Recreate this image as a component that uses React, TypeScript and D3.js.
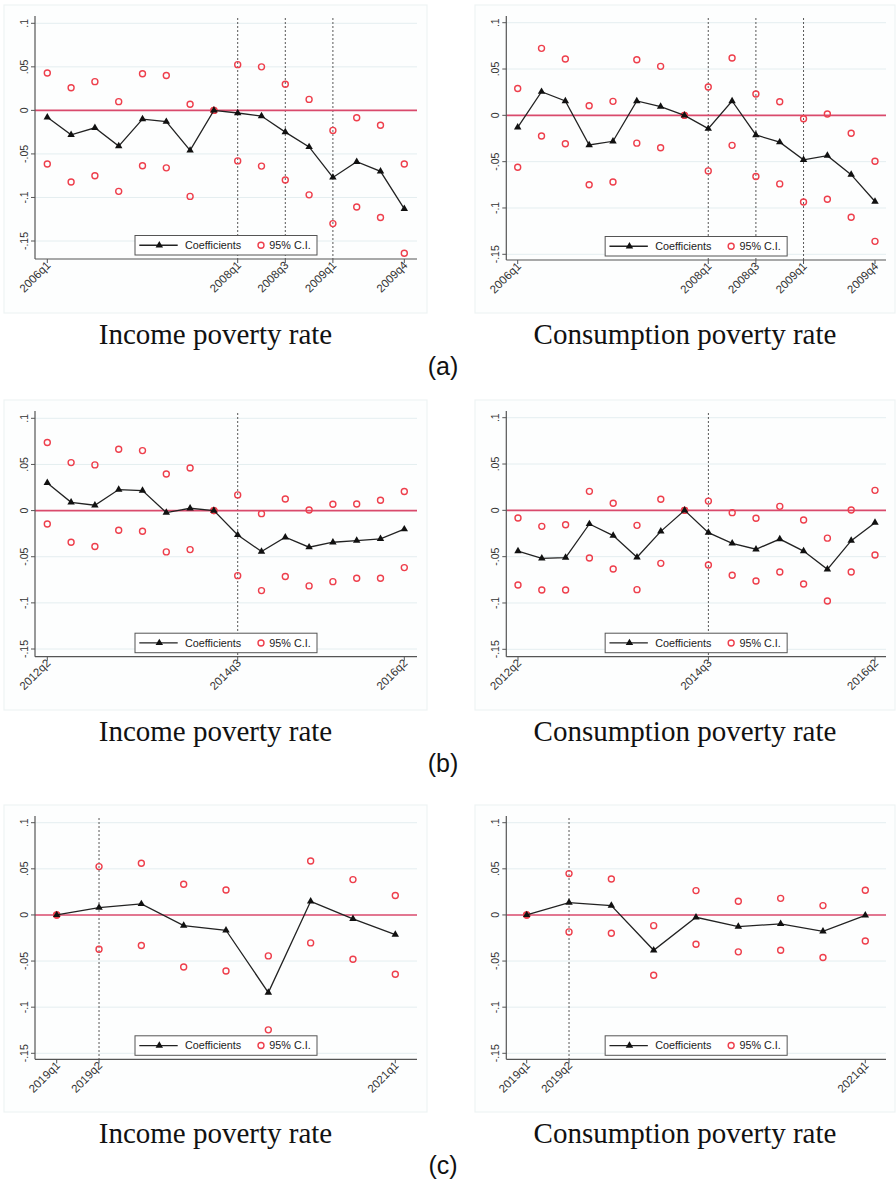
import React from "react";
import * as d3 from "d3";

// ---------- data ----------
const quartersA = ["2006q1","2006q2","2006q3","2006q4","2007q1","2007q2","2007q3","2007q4","2008q1","2008q2","2008q3","2008q4","2009q1","2009q2","2009q3","2009q4"];
const ticksA = ["2006q1","2008q1","2008q3","2009q1","2009q4"];
const eventsA = ["2008q1","2008q3","2009q1"];

const quartersB = ["2012q2","2012q3","2012q4","2013q1","2013q2","2013q3","2013q4","2014q1","2014q3","2014q4","2015q1","2015q2","2015q3","2015q4","2016q1","2016q2"];
const ticksB = ["2012q2","2014q3","2016q2"];
const eventsB = ["2014q3"];

const quartersC = ["2019q1","2019q2","2019q3","2019q4","2020q1","2020q2","2020q3","2020q4","2021q1"];
const ticksC = ["2019q1","2019q2","2021q1"];
const eventsC = ["2019q2"];

const incomeACoef = [-0.008,-0.028,-0.020,-0.041,-0.010,-0.013,-0.046,0,-0.003,-0.0065,-0.025,-0.042,-0.077,-0.059,-0.070,-0.113];
const incomeAHi = [0.043,0.026,0.033,0.010,0.042,0.040,0.007,0,0.0525,0.050,0.030,0.0126,-0.023,-0.0084,-0.017,-0.0616];
const incomeALo = [-0.0616,-0.0823,-0.075,-0.093,-0.0636,-0.066,-0.0988,0,-0.058,-0.064,-0.080,-0.097,-0.130,-0.111,-0.123,-0.164];

const consACoef = [-0.013,0.0255,0.0155,-0.032,-0.028,0.0155,0.0094,0,-0.0144,0.0155,-0.0212,-0.029,-0.048,-0.0435,-0.064,-0.093];
const consAHi = [0.029,0.0723,0.0608,0.0104,0.0151,0.060,0.0529,0,0.0306,0.0619,0.023,0.0147,-0.0036,0.0014,-0.0194,-0.0496];
const consALo = [-0.056,-0.0223,-0.0306,-0.075,-0.072,-0.030,-0.035,0,-0.060,-0.0324,-0.066,-0.074,-0.0935,-0.0906,-0.110,-0.136];

const incomeBCoef = [0.030,0.009,0.0058,0.0228,0.0217,-0.0022,0.0025,0,-0.0264,-0.0444,-0.0289,-0.0397,-0.0343,-0.0325,-0.0307,-0.0202];
const incomeBHi = [0.0737,0.052,0.0495,0.0665,0.065,0.0397,0.0462,0,0.017,-0.0033,0.0126,0.0007,0.0069,0.0072,0.0112,0.0206];
const incomeBLo = [-0.0145,-0.0343,-0.039,-0.0213,-0.0224,-0.0448,-0.0423,0,-0.0705,-0.0867,-0.0715,-0.0816,-0.077,-0.0733,-0.0733,-0.0618];

const consBCoef = [-0.0439,-0.0518,-0.051,-0.0147,-0.0273,-0.0507,-0.0227,0,-0.0241,-0.0356,-0.042,-0.031,-0.044,-0.0637,-0.0327,-0.0133];
const consBHi = [-0.0083,-0.0173,-0.0155,0.0205,0.0076,-0.0162,0.0119,0,0.010,-0.0025,-0.0086,0.0043,-0.0104,-0.030,0.0004,0.0216];
const consBLo = [-0.0806,-0.086,-0.086,-0.0514,-0.0633,-0.0856,-0.0572,0,-0.059,-0.070,-0.0763,-0.0665,-0.0795,-0.0978,-0.0665,-0.0482];

const incomeCCoef = [0,0.0079,0.0119,-0.0116,-0.0166,-0.0842,0.0148,-0.0043,-0.0213];
const incomeCHi = [0,0.0524,0.056,0.0332,0.027,-0.0444,0.0585,0.0383,0.021];
const incomeCLo = [0,-0.0372,-0.0332,-0.0564,-0.0607,-0.1246,-0.0303,-0.048,-0.0643];

const consCCoef = [0,0.0134,0.0101,-0.0383,-0.0025,-0.0126,-0.0097,-0.0177,-0.0004];
const consCHi = [0,0.0448,0.039,-0.0116,0.0264,0.0148,0.018,0.0101,0.0267];
const consCLo = [0,-0.0184,-0.0199,-0.0654,-0.0318,-0.040,-0.0383,-0.0462,-0.0282];

const yTicks = [0.1, 0.05, 0, -0.05, -0.1, -0.15];
const yTickLabels = [".1", ".05", "0", "-.05", "-.1", "-.15"];

const titles = ["Income poverty rate", "Consumption poverty rate"];
const rowLabels = ["(a)", "(b)", "(c)"];
const legendLabels = ["Coefficients", "95% C.I."];

// ---------- layout ----------
const SANS = "'Liberation Sans', Arial, Helvetica, sans-serif";
const SERIF = "'Liberation Serif', 'Times New Roman', serif";
const RED = "#ee3f4c";
const ZERO = "#d94a6c";
const GRID = "#e4eef0";
const AXIS = "#555";

type Panel = {
  box: [number, number, number, number];
  axisX: number; right: number; yTop: number; yBot: number; axisY: number; axisTop: number;
  x0: number; x1: number;
  cats: string[]; ticks: string[]; events: string[];
  coef: number[]; hi: number[]; lo: number[];
};

const rowsGeo = [
  { top: 5, bottom: 313 },
  { top: 400, bottom: 710 },
  { top: 805, bottom: 1112 },
];

const panels: Panel[] = [
  { box: [4, 5, 427, 313], axisX: 35, right: 417, yTop: 23.3, yBot: 241, axisY: 259, axisTop: 16, x0: 47.3, x1: 404.3, cats: quartersA, ticks: ticksA, events: eventsA, coef: incomeACoef, hi: incomeAHi, lo: incomeALo },
  { box: [475, 5, 895, 313], axisX: 506.3, right: 886, yTop: 22.7, yBot: 254.3, axisY: 260, axisTop: 16, x0: 517.7, x1: 875, cats: quartersA, ticks: ticksA, events: eventsA, coef: consACoef, hi: consAHi, lo: consALo },
  { box: [4, 400, 427, 710], axisX: 35, right: 417, yTop: 418.3, yBot: 649, axisY: 656.7, axisTop: 411, x0: 47.3, x1: 404.3, cats: quartersB, ticks: ticksB, events: eventsB, coef: incomeBCoef, hi: incomeBHi, lo: incomeBLo },
  { box: [475, 400, 895, 710], axisX: 506.3, right: 886, yTop: 417.7, yBot: 649.3, axisY: 656.7, axisTop: 411, x0: 518, x1: 875, cats: quartersB, ticks: ticksB, events: eventsB, coef: consBCoef, hi: consBHi, lo: consBLo },
  { box: [4, 805, 427, 1112], axisX: 35, right: 417, yTop: 822.7, yBot: 1053.3, axisY: 1059.3, axisTop: 816, x0: 56.7, x1: 395.3, cats: quartersC, ticks: ticksC, events: eventsC, coef: incomeCCoef, hi: incomeCHi, lo: incomeCLo },
  { box: [475, 805, 895, 1112], axisX: 506.3, right: 886, yTop: 822.7, yBot: 1053.3, axisY: 1059.3, axisTop: 816, x0: 526.7, x1: 865.3, cats: quartersC, ticks: ticksC, events: eventsC, coef: consCCoef, hi: consCHi, lo: consCLo },
];

const triPath = d3.symbol(d3.symbolTriangle, 24)() as string;

function PanelView({ p }: { p: Panel }) {
  const x = d3.scaleLinear().domain([0, p.cats.length - 1]).range([p.x0, p.x1]);
  const y = d3.scaleLinear().domain([-0.15, 0.1]).range([p.yBot, p.yTop]);
  const xi = (c: string) => x(p.cats.indexOf(c));
  const line = d3.line<number>().x((_, i) => x(i)).y((d) => y(d));
  const [bx0, by0, bx1, by1] = p.box;
  const lw = 182, lh = 19.5;
  const lx = (p.axisX + p.right) / 2 - lw / 2;
  const ly = p.axisY - 4 - lh;
  const lcy = ly + lh / 2;
  return (
    <g>
      <rect x={bx0} y={by0} width={bx1 - bx0} height={by1 - by0} fill="#fdfefe" stroke="#eef3f4" strokeWidth={1.2} />
      {yTicks.map((t, i) => (
        <line key={"g" + i} x1={p.axisX} x2={p.right} y1={y(t)} y2={y(t)} stroke={t === 0 ? "none" : GRID} strokeWidth={1} />
      ))}
      {p.events.map((e) => (
        <line key={"e" + e} x1={xi(e)} x2={xi(e)} y1={p.axisTop + 2} y2={p.axisY} stroke="#444" strokeWidth={0.9} strokeDasharray="2,2" />
      ))}
      <line x1={p.axisX} x2={p.right} y1={y(0)} y2={y(0)} stroke={ZERO} strokeWidth={1.6} />
      <line x1={p.axisX} x2={p.axisX} y1={p.axisTop} y2={p.axisY} stroke={AXIS} strokeWidth={1.2} />
      <line x1={p.axisX} x2={p.right} y1={p.axisY} y2={p.axisY} stroke={AXIS} strokeWidth={1.2} />
      {yTicks.map((t, i) => (
        <g key={"yt" + i}>
          <line x1={p.axisX - 4} x2={p.axisX} y1={y(t)} y2={y(t)} stroke={AXIS} strokeWidth={1} />
          <text transform={`translate(${p.axisX - 7},${y(t)}) rotate(-90)`} textAnchor="middle" fontFamily={SANS} fontSize={10.5} fill="#333">
            {yTickLabels[i]}
          </text>
        </g>
      ))}
      {p.ticks.map((t) => (
        <g key={"xt" + t}>
          <line x1={xi(t)} x2={xi(t)} y1={p.axisY} y2={p.axisY + 4} stroke={AXIS} strokeWidth={1} />
          <text transform={`translate(${xi(t) + 4},${p.axisY + 7}) rotate(-45)`} textAnchor="end" fontFamily={SANS} fontSize={11.5} fill="#333">
            {t}
          </text>
        </g>
      ))}
      {p.hi.map((v, i) => (
        <circle key={"h" + i} cx={x(i)} cy={y(v)} r={3} fill="none" stroke={RED} strokeWidth={1.4} />
      ))}
      {p.lo.map((v, i) => (
        <circle key={"l" + i} cx={x(i)} cy={y(v)} r={3} fill="none" stroke={RED} strokeWidth={1.4} />
      ))}
      <path d={line(p.coef) || ""} fill="none" stroke="#222" strokeWidth={1.3} />
      {p.coef.map((v, i) => (
        <path key={"c" + i} d={triPath} transform={`translate(${x(i)},${y(v)})`} fill="#111" />
      ))}
      <rect x={lx} y={ly} width={lw} height={lh} fill="#fff" stroke="#555" strokeWidth={1} />
      <line x1={lx + 4.3} x2={lx + 42.7} y1={lcy} y2={lcy} stroke="#222" strokeWidth={1.3} />
      <path d={triPath} transform={`translate(${lx + 24.3},${lcy})`} fill="#111" />
      <text x={lx + 50} y={lcy + 3.8} fontFamily={SANS} fontSize={10.8} fill="#222">{legendLabels[0]}</text>
      <circle cx={lx + 126} cy={lcy} r={3} fill="none" stroke={RED} strokeWidth={1.4} />
      <text x={lx + 134.3} y={lcy + 3.8} fontFamily={SANS} fontSize={10.8} fill="#222">{legendLabels[1]}</text>
    </g>
  );
}

export default function App() {
  return (
    <svg width={896} height={1182} viewBox="0 0 896 1182" style={{ position: "absolute", left: 0, top: 0, background: "#fff" }}>
      <rect x={0} y={0} width={896} height={1182} fill="#fff" />
      {panels.map((p, i) => (
        <PanelView key={i} p={p} />
      ))}
      {rowsGeo.map((r, ri) => (
        <g key={"row" + ri}>
          <text x={215.5} y={r.bottom + 31} textAnchor="middle" fontFamily={SERIF} fontSize={29} fill="#111">{titles[0]}</text>
          <text x={685} y={r.bottom + 31} textAnchor="middle" fontFamily={SERIF} fontSize={29} fill="#111">{titles[1]}</text>
          <text x={443} y={r.bottom + 62} textAnchor="middle" fontFamily={SANS} fontSize={25} fill="#111">{rowLabels[ri]}</text>
        </g>
      ))}
    </svg>
  );
}
